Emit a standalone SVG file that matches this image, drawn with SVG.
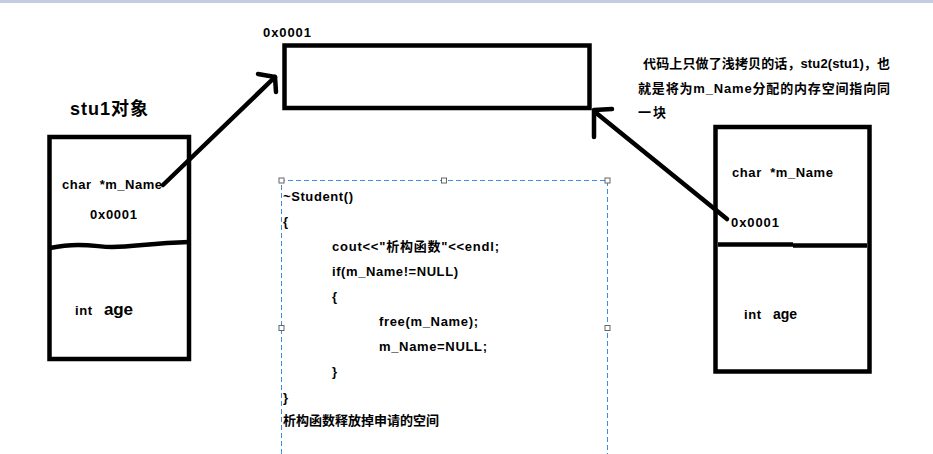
<svg xmlns="http://www.w3.org/2000/svg" width="933" height="454" viewBox="0 0 933 454">
<style>
.t{font-family:"Liberation Sans","Noto Sans CJK SC",sans-serif;font-weight:bold;fill:#000;white-space:pre;}
.box{fill:none;stroke:#000;stroke-width:4.5;}
.conn{fill:none;stroke:#000;stroke-width:4.5;stroke-linecap:round;stroke-linejoin:round;}
.dash{fill:none;stroke:#3c8ee8;stroke-width:1;stroke-dasharray:5 3;}
.h{fill:#fff;stroke:#666;stroke-width:1;}
</style>
<rect x="0" y="0" width="933" height="454" fill="#fff"/>
<rect x="0" y="0" width="933" height="3" fill="#c5cde0"/>

<g id="stu1">
<text class="t" x="70" y="115" font-size="18" textLength="78">stu1对象</text>
<rect class="box" x="49.5" y="137" width="139.5" height="222"/>
<path class="box" d="M50 248 C60 246 65 245 78 245 C95 245 100 247 112 247 C135 247 150 243 189 242"/>
<text class="t" x="62" y="189" font-size="13" textLength="100" xml:space="preserve">char  *m_Name</text>
<text class="t" x="90" y="219" font-size="13" textLength="47">0x0001</text>
<text class="t" x="75" y="315" font-size="13" textLength="17">int</text>
<text class="t" x="104" y="315" font-size="17" textLength="29">age</text>
</g>

<g id="heap">
<text class="t" x="263" y="37" font-size="13" textLength="48">0x0001</text>
<rect class="box" x="284.5" y="45.5" width="305" height="62.5"/>
</g>

<g id="stu2">
<rect class="box" x="715.5" y="127" width="154" height="244.5"/>
<path class="box" d="M718 244.5 L793 244.5"/>
<path class="box" d="M793 245.5 L867 245.5"/>
<text class="t" x="732" y="177" font-size="13" textLength="101" xml:space="preserve">char  *m_Name</text>
<text class="t" x="731" y="227" font-size="13" textLength="48">0x0001</text>
<text class="t" x="744" y="319" font-size="13" textLength="17">int</text>
<text class="t" x="773" y="319" font-size="14" textLength="24">age</text>
</g>

<g id="note">
<text class="t" x="643" y="68" font-size="13" textLength="247">代码上只做了浅拷贝的话，stu2(stu1)，也</text>
<text class="t" x="638" y="93" font-size="13" textLength="252">就是将为m_Name分配的内存空间指向同</text>
<text class="t" x="638" y="117" font-size="13" textLength="28">一块</text>
</g>

<g id="code">
<path class="dash" d="M281.5 454 L281.5 180.5 L607.5 180.5 L607.5 454"/>
<rect class="h" x="279" y="178" width="5" height="5"/>
<rect class="h" x="441.5" y="178" width="5" height="5"/>
<rect class="h" x="605" y="178" width="5" height="5"/>
<rect class="h" x="279" y="325.5" width="5" height="5"/>
<rect class="h" x="605" y="325.5" width="5" height="5"/>
<text class="t" x="283" y="201" font-size="13" textLength="70">~Student()</text>
<text class="t" x="283" y="226" font-size="13">{</text>
<text class="t" x="332" y="251" font-size="13" textLength="167">cout&lt;&lt;"析构函数"&lt;&lt;endl;</text>
<text class="t" x="332" y="276" font-size="13" textLength="126">if(m_Name!=NULL)</text>
<text class="t" x="332" y="301" font-size="13">{</text>
<text class="t" x="379" y="326" font-size="13" textLength="99">free(m_Name);</text>
<text class="t" x="379" y="351" font-size="13" textLength="108">m_Name=NULL;</text>
<text class="t" x="332" y="376" font-size="13">}</text>
<text class="t" x="283" y="402" font-size="13">}</text>
<text class="t" x="283" y="425" font-size="13" textLength="156">析构函数释放掉申请的空间</text>
</g>

<g id="connectors">
<path class="conn" d="M163 185 L275 77"/>
<path class="conn" d="M258 74 L275 77 L276 92"/>
<path class="conn" d="M727 219 L595 112"/>
<path class="conn" d="M612 109 L594 110 L594 137"/>
</g>
</svg>
